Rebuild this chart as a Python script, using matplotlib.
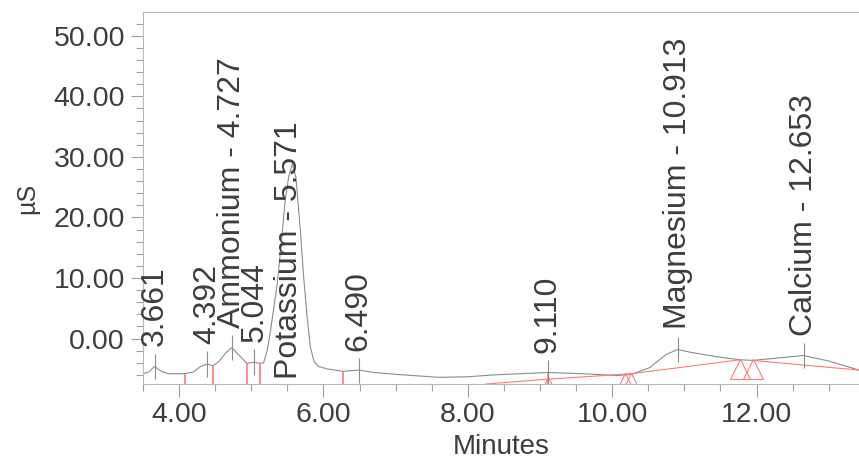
import matplotlib
matplotlib.use('Agg')
import matplotlib.pyplot as plt
from matplotlib.ticker import MultipleLocator, FormatStrFormatter

plt.rcParams['font.family'] = ['Liberation Sans', 'DejaVu Sans']

# chromatogram trace (minutes, uS)
trace_t = [3.50, 3.58, 3.66, 3.75, 3.85, 4.08, 4.20, 4.30, 4.39, 4.47, 4.55,
           4.65, 4.73, 4.82, 4.94, 5.04, 5.12, 5.17, 5.22, 5.26, 5.30, 5.36,
           5.41, 5.47, 5.52, 5.571, 5.62, 5.68, 5.72, 5.77, 5.82, 5.87, 5.93,
           6.05, 6.27, 6.49, 6.70, 7.00, 7.60, 8.00, 8.35, 9.11, 9.60, 10.07,
           10.27, 10.52, 10.75, 10.91, 11.10, 11.45, 11.77, 11.95, 12.30,
           12.65, 13.00, 13.42]
trace_v = [-5.8, -5.5, -4.6, -5.4, -5.8, -5.8, -5.5, -4.6, -4.2, -4.5, -3.8,
           -2.3, -1.5, -2.6, -4.1, -3.9, -4.1, -4.0, -2.0, 0.8, 4.1, 9.1,
           15.0, 22.8, 26.8, 28.9, 26.5, 17.8, 11.0, 4.0, -1.5, -3.8, -4.6,
           -5.0, -5.4, -5.2, -5.6, -5.9, -6.4, -6.3, -6.0, -5.6, -5.8, -6.1,
           -5.9, -4.8, -2.6, -1.8, -2.3, -3.0, -3.5, -3.6, -3.2,
           -2.8, -3.7, -5.2]

# peaks
peak_t = [3.661, 4.392, 4.727, 5.044, 6.490, 9.110, 10.913, 12.653]
peak_v = [-4.6, -4.2, -1.5, -3.9, -5.3, -5.6, -1.8, -2.8]
peak_lbl = ['3.661', '4.392', 'Ammonium - 4.727', '5.044', '6.490', '9.110',
            'Magnesium - 10.913', 'Calcium - 12.653']
big_t, big_v, big_lbl = 5.52, -6.6, 'Potassium - 5.571'

# integration marks
mark_t = [4.08, 4.47, 4.94, 5.12, 6.27, 9.11]
mark_v = [-5.8, -4.5, -4.1, -4.1, -5.4, -5.6]

base1_t = [8.25, 9.11, 10.27]
base1_v = [-7.5, -6.7, -5.8]
base2_t = [10.27, 11.77]
base2_v = [-5.8, -3.5]
base3_t = [11.95, 13.42]
base3_v = [-3.6, -5.2]

tri_small_t = [10.18, 10.26]
tri_small_v = [-6.6, -6.6]
tri_big_t = [11.77, 11.95]
tri_big_v = [-5.0, -5.1]

txt = '#3d3d3d'
red = '#ff7a7a'

fig = plt.figure(figsize=(8.59, 4.62), dpi=100)
ax = fig.add_axes([0.1665, 0.1688, 0.8335, 0.805])

ax.set_xlim(3.5, 13.42)
ax.set_ylim(-7.5, 53.9)

ax.plot(trace_t, trace_v, color='#8c8c8c', lw=0.8)

lo = ax.get_ylim()[0]
ax.vlines(mark_t, lo, mark_v, color=red, lw=1.2)
for bt, bv in [(base1_t, base1_v), (base2_t, base2_v), (base3_t, base3_v)]:
    ax.plot(bt, bv, color=red, lw=0.8)
ax.plot(tri_small_t, tri_small_v, ls='none', marker='^', ms=8, mfc='none',
        mec=red, mew=0.8)
ax.plot(tri_big_t, tri_big_v, ls='none', marker='^', ms=14, mfc='none',
        mec=red, mew=0.8)
ax.plot([9.11], [-7.0], ls='none', marker='^', ms=6, mfc='none', mec=red, mew=0.8)

ax.vlines(peak_t, [v - 2.1 for v in peak_v], [v + 2.1 for v in peak_v],
          color='#8c8c8c', lw=0.8)

for t, v, s in zip(peak_t, peak_v, peak_lbl):
    ax.annotate(s, xy=(t, v), xytext=(0, 14.4), textcoords='offset points',
                rotation=90, ha='center', va='bottom', fontsize=23, color=txt)
ax.text(big_t, big_v, big_lbl, rotation=90, ha='center', va='bottom',
        fontsize=23, color=txt)

ax.xaxis.set_major_locator(MultipleLocator(2))
ax.xaxis.set_minor_locator(MultipleLocator(0.5))
ax.yaxis.set_major_locator(MultipleLocator(10))
ax.yaxis.set_minor_locator(MultipleLocator(2))
ax.xaxis.set_major_formatter(FormatStrFormatter('%.2f'))
ax.yaxis.set_major_formatter(FormatStrFormatter('%.2f'))

ax.tick_params(which='major', length=9, width=0.8, color='#a0a0a0',
               labelsize=20.5, labelcolor=txt, pad=4)
ax.tick_params(which='minor', length=5, width=0.8, color='#a0a0a0')

for side in ['left', 'bottom', 'top']:
    ax.spines[side].set_color('#b8b8b8')
    ax.spines[side].set_linewidth(0.8)
ax.spines['right'].set_visible(False)

ax.set_xlabel('Minutes', fontsize=20, color=txt, labelpad=4)
ax.set_ylabel('µS', fontsize=18, color=txt, labelpad=10)

fig.savefig('out.png', dpi=100)
